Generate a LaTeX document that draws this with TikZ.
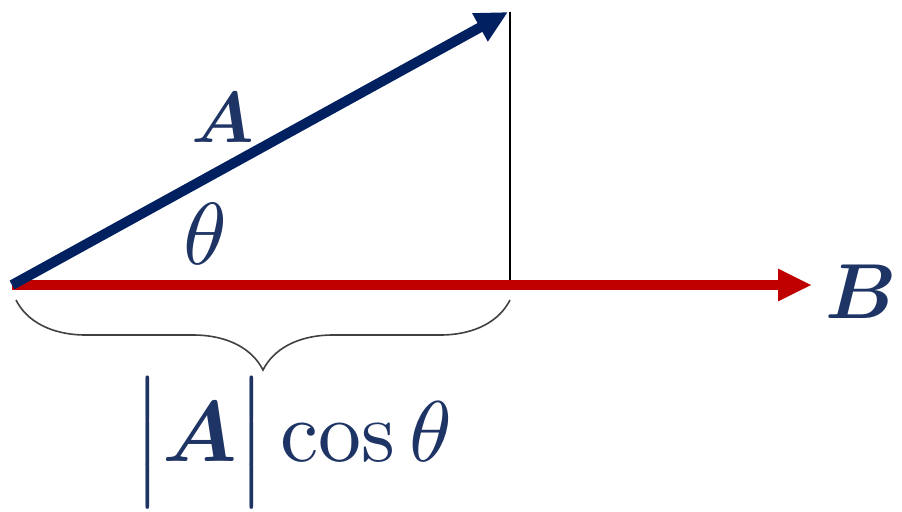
\documentclass[tikz,border=0pt]{standalone}
\usepackage{amsmath}
\usepackage{bm}
\usetikzlibrary{arrows.meta, decorations.pathreplacing, positioning}
\definecolor{vecblue}{RGB}{0,32,96}
\definecolor{txtblue}{RGB}{30,52,100}
\definecolor{vecred}{RGB}{192,0,0}
\newcommand{\magbar}{\mathord{\scalebox{1}[0.84]{$\Big|$}}}
\tikzset{
  lbl/.style={text=txtblue, inner sep=0pt},
}

\begin{document}
\begin{tikzpicture}[x=0.5pt, y=-0.5pt]
        \useasboundingbox (0,0) rectangle (902,511);
        \coordinate (O) at (12,285);
        \coordinate (Atip) at (508,12);
        \coordinate (Btip) at (812,285);
        \coordinate (Foot) at (510,285);
        \draw[line width=0.6pt] (Foot) -- (510,12);
        \draw[vecred, line width=4.6pt, -{Triangle[length=17pt,width=15pt]}] (O) -- (Btip);
        \draw[vecblue, line width=5pt, -{Triangle[length=16pt,width=15pt]}] (O) -- (Atip);
        \node[lbl, scale=3.6] (A) at (223,118) {$\bm{A}$};
        \node[lbl, scale=4.4] (th) at (205,234) {$\theta$};
        \node[lbl, scale=3.9] (B) at (861,292) {$\bm{B}$};
        \draw[line width=0.8pt, black!75, decorate,
              decoration={brace, mirror, amplitude=35pt}] (16,300) -- (510,300);
        \node[lbl, scale=4.3] (proj) at (293,443) {$\magbar\bm{A}\magbar\cos\theta$};
    \end{tikzpicture}
\end{document}
